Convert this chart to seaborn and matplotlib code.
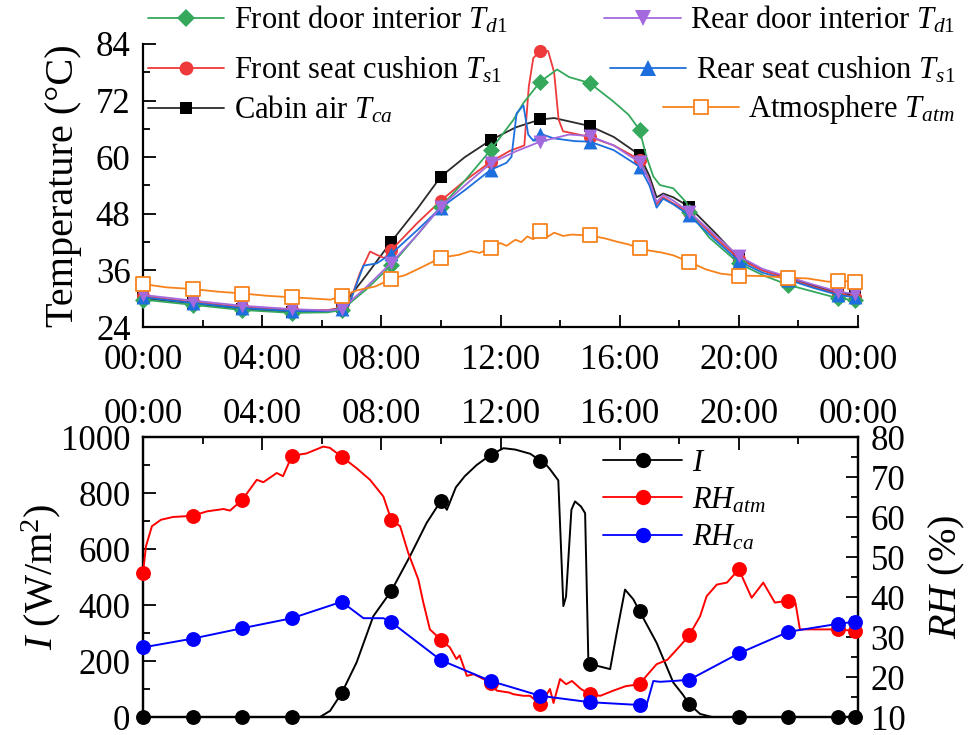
import matplotlib
matplotlib.use("Agg")
import matplotlib.pyplot as plt
import seaborn as sns
from matplotlib.lines import Line2D
from matplotlib.ticker import MultipleLocator, FixedLocator, FixedFormatter

sns.set_theme(style="ticks", rc={"axes.edgecolor": "black", "xtick.color": "black",
                                 "ytick.color": "black", "axes.labelcolor": "black",
                                 "text.color": "black"})
plt.rcParams["font.family"] = ["Liberation Serif", "DejaVu Serif"]
plt.rcParams["mathtext.fontset"] = "custom"
plt.rcParams["mathtext.rm"] = "Liberation Serif"
plt.rcParams["mathtext.it"] = "Liberation Serif:italic"
plt.rcParams["mathtext.bf"] = "Liberation Serif:bold"

# ---- data (hours of day) ----
HOUR_TICKS = [0, 4, 8, 12, 16, 20, 24]
HOUR_LABELS = ["00:00", "04:00", "08:00", "12:00", "16:00", "20:00", "00:00"]

# marker sampling times (every 100 min + end)
MARK_T = [0, 1.667, 3.333, 5, 6.667, 8.333, 10, 11.667, 13.333, 15, 16.667,
          18.333, 20, 21.667, 23.333, 23.9]

# top panel: temperatures (deg C)
cabin_mark = [30.1, 29.0, 27.8, 27.2, 28.2, 42.1, 55.9, 63.6, 68.0, 66.6, 60.5,
              49.5, 38.6, 34.5, 31.2, 30.8]
cabin_t = [0, 1.667, 3.333, 5, 6.2, 6.667, 7.5, 8.333, 9.2, 10, 10.8, 11.667,
           12.5, 13.333, 13.8, 14.3, 15, 15.8, 16.667, 17.0, 17.24, 17.46, 17.8,
           18.333, 19.2, 20, 20.8, 21.667, 22.5, 23.333, 23.9]
cabin_v = [30.1, 29.0, 27.8, 27.2, 27.4, 28.2, 35.0, 42.1, 49.0, 55.9, 60.0, 63.6,
           66.3, 68.0, 68.3, 67.6, 66.6, 64.3, 60.5, 56.0, 51.5, 52.3, 51.5,
           49.5, 44.0, 38.6, 36.0, 34.5, 32.8, 31.2, 30.8]

fseat_mark = [30.5, 29.3, 28.2, 27.6, 28.0, 40.3, 50.8, 59.0, 82.6, 64.3, 59.5,
              48.3, 38.5, 34.2, 31.0, 30.4]
fseat_t = [0, 1.667, 3.333, 5, 6.2, 6.667, 6.9, 7.28, 7.62, 7.85, 8.1, 8.333, 9.2,
           10, 10.8, 11.667, 12.3, 12.8, 12.95, 13.1, 13.333, 13.6, 13.8, 13.95,
           14.1, 15, 15.8, 16.667, 17.0, 17.24, 17.46, 17.8, 18.333, 19.2, 20,
           20.8, 21.667, 22.5, 23.333, 23.9]
fseat_v = [30.5, 29.3, 28.2, 27.6, 27.6, 28.0, 28.5, 35.4, 40.0, 39.3, 38.6, 40.3,
           46.0, 50.8, 55.0, 59.0, 61.3, 62.5, 75.0, 81.0, 82.6, 82.5, 78.0, 68.0,
           65.5, 64.3, 62.5, 59.5, 55.0, 50.0, 51.5, 50.2, 48.3, 43.0, 38.5,
           36.0, 34.2, 32.5, 31.0, 30.4]

fdoor_mark = [29.8, 28.7, 27.6, 27.0, 27.6, 37.1, 49.5, 61.5, 76.0, 75.7, 65.8,
              48.4, 37.5, 32.9, 30.1, 29.7]
fdoor_t = [0, 1.667, 3.333, 5, 6.2, 6.667, 7.5, 8.333, 9.2, 10, 10.8, 11.667,
           12.43, 12.77, 13.333, 13.9, 14.3, 15, 15.79, 16.3, 16.667, 16.9, 17.13,
           17.35, 17.8, 18.24, 18.333, 19.0, 20, 20.8, 21.667, 22.5, 23.333, 23.9]
fdoor_v = [29.8, 28.7, 27.6, 27.0, 27.1, 27.6, 32.0, 37.1, 43.5, 49.5, 55.0, 61.5,
           67.9, 71.5, 76.0, 78.6, 77.0, 75.7, 71.8, 69.0, 65.8, 60.1, 55.9,
           54.1, 53.4, 50.4, 48.4, 43.0, 37.5, 35.0, 32.9, 31.5, 30.1, 29.7]

rseat_mark = [30.3, 29.1, 28.0, 27.4, 27.9, 39.5, 49.3, 57.3, 65.0, 63.3, 58.0,
              47.7, 38.0, 34.0, 30.8, 30.3]
rseat_t = [0, 1.667, 3.333, 5, 6.2, 6.667, 6.9, 7.4, 7.85, 8.333, 9.2, 10, 10.8,
           11.667, 12.2, 12.37, 12.54, 12.77, 12.93, 13.1, 13.333, 13.78, 14.5, 15,
           15.8, 16.667, 17.0, 17.24, 17.46, 17.8, 18.333, 19.2, 20, 20.8, 21.667,
           22.5, 23.333, 23.9]
rseat_v = [30.3, 29.1, 28.0, 27.4, 27.4, 27.9, 28.5, 37.0, 37.5, 39.5, 44.5, 49.3,
           53.0, 57.3, 58.8, 60.1, 69.3, 71.0, 64.8, 63.5, 65.0, 64.0, 63.4, 63.3,
           61.5, 58.0, 54.0, 49.3, 51.2, 50.0, 47.7, 42.5, 38.0, 35.5, 34.0,
           32.3, 30.8, 30.3]

rdoor_mark = [30.8, 29.6, 28.5, 27.8, 27.8, 37.6, 49.5, 58.7, 63.3, 64.5, 58.9,
              48.4, 39.0, 34.6, 31.5, 31.0]
rdoor_t = [0, 1.667, 3.333, 5, 6.2, 6.667, 7.5, 8.333, 9.2, 10, 10.8, 11.667,
           12.5, 13.333, 14.3, 15, 15.8, 16.667, 17.0, 17.24, 17.46, 17.8, 18.333,
           19.2, 20, 20.8, 21.667, 22.5, 23.333, 23.9]
rdoor_v = [30.8, 29.6, 28.5, 27.8, 27.5, 27.8, 32.5, 37.6, 43.5, 49.5, 54.0, 58.7,
           61.2, 63.3, 64.8, 64.5, 62.5, 58.9, 55.0, 50.5, 52.0, 50.8, 48.4,
           43.5, 39.0, 36.3, 34.6, 33.0, 31.5, 31.0]

atm_mark = [33.1, 32.05, 31.1, 30.3, 30.6, 34.2, 38.7, 40.8, 44.35, 43.4, 40.7,
            37.8, 34.9, 34.45, 33.8, 33.6]
atm_t = [0, 0.8, 1.667, 2.5, 3.333, 4.2, 5, 5.8, 6.3, 6.667, 7.2, 7.8, 8.333, 8.8,
         9.3, 10, 10.6, 11.0, 11.3, 11.667, 12.0, 12.2, 12.5, 12.7, 12.9, 13.1,
         13.333, 13.6, 13.8, 14.1, 14.4, 15, 15.5, 15.9, 16.3, 16.667, 17.0, 17.4,
         17.8, 18.333, 18.9, 19.4, 20, 20.8, 21.667, 22.3, 23.0, 23.333, 23.9]
atm_v = [33.1, 32.4, 32.05, 31.5, 31.1, 30.6, 30.3, 30.0, 29.8, 30.6, 31.8, 32.6,
         34.2, 35.0, 36.5, 38.7, 39.3, 40.1, 39.7, 40.8, 41.8, 41.2, 42.5, 42.0,
         43.2, 42.6, 44.35, 43.2, 44.0, 43.3, 43.6, 43.4, 42.8, 42.1, 41.5, 40.7,
         40.2, 39.8, 39.2, 37.8, 36.2, 35.3, 34.9, 34.8, 34.45, 34.3, 33.6, 33.8,
         33.6]

# bottom panel: solar irradiance (W/m2) and relative humidity (%)
irr_mark = [0, 0, 0, 0, 85, 450, 772, 936, 916, 189, 378, 46, 0, 0, 0, 0]
irr_t = [0, 1.667, 3.333, 5, 5.94, 6.28, 6.667, 7.17, 7.73, 8.333, 8.96, 9.52, 10,
         10.2, 10.5, 10.8, 11.2, 11.667, 12.1, 12.5, 13.0, 13.333, 13.5, 13.66,
         13.94, 14.11, 14.2, 14.38, 14.5, 14.7, 14.84, 14.95, 15, 15.35, 15.68,
         15.9, 16.18, 16.46, 16.667, 17.24, 17.8, 18.12, 18.333, 18.7, 19.1, 20,
         21.667, 23.333, 23.9]
irr_v = [0, 0, 0, 0, 0, 22, 85, 195, 360, 450, 574, 693, 772, 740, 820, 860, 900,
         936, 960, 955, 940, 916, 905, 885, 845, 396, 430, 740, 770, 752, 728,
         195, 189, 180, 171, 300, 455, 420, 378, 265, 123, 80, 46, 11, 0, 0, 0,
         0, 0]

rha_mark = [46.0, 60.3, 64.3, 75.3, 75.1, 59.3, 29.3, 18.6, 13.2, 15.7, 18.2, 30.4,
            46.9, 39.1, 31.9, 31.5]
rha_t = [0, 0.1, 0.3, 0.6, 1.0, 1.667, 2.14, 2.7, 2.92, 3.333, 3.82, 4.04, 4.49,
         4.7, 5, 5.49, 6.05, 6.27, 6.667, 7.17, 7.62, 8.07, 8.333, 8.63, 8.9, 9.24,
         9.41, 9.63, 10, 10.3, 10.52, 10.63, 10.87, 11.1, 11.667, 11.87, 12.3,
         12.43, 12.77, 12.99, 13.333, 13.5, 13.66, 13.78, 14.0, 14.2, 14.4, 14.7,
         15, 15.35, 15.79, 16.2, 16.667, 16.9, 17.24, 17.6, 18.03, 18.333, 18.7,
         18.92, 19.26, 19.6, 20, 20.43, 20.82, 21.21, 21.667, 21.9, 22.05, 22.6,
         23.333, 23.9]
rha_v = [46.0, 52.7, 57.7, 59.3, 60.0, 60.3, 61.4, 62.0, 61.6, 64.3, 69.3, 68.7,
         71.0, 70.2, 75.3, 75.9, 77.6, 77.3, 75.1, 72.2, 69.3, 65.1, 59.3, 57.7,
         51.1, 44.4, 38.6, 31.9, 29.3, 27.4, 24.5, 25.4, 20.3, 20.7, 18.6, 16.6,
         16.1, 15.7, 15.3, 15.3, 13.2, 15.0, 17.0, 13.5, 19.5, 18.2, 19.0, 17.0,
         15.7, 15.3, 16.6, 17.7, 18.2, 20.3, 23.2, 24.3, 27.8, 30.4, 35.2, 40.2,
         43.1, 43.6, 46.9, 39.8, 43.6, 38.6, 39.1, 38.6, 31.9, 31.9, 31.9, 31.5]

rhc_mark = [27.4, 29.6, 32.2, 34.7, 38.8, 33.7, 24.2, 19.0, 15.3, 13.7, 13.0, 19.3,
            25.9, 31.3, 33.3, 33.8]
rhc_t = [0, 1.667, 3.333, 5, 6.667, 7.4, 8.07, 8.333, 10, 11.667, 13.333, 15,
         16.667, 16.9, 17.13, 17.35, 17.8, 18.333, 20, 21.667, 23.333, 23.9]
rhc_v = [27.4, 29.6, 32.2, 34.7, 38.8, 34.7, 34.7, 33.7, 24.2, 19.0, 15.3, 13.7,
         13.0, 12.9, 19.0, 18.8, 19.0, 19.3, 25.9, 31.3, 33.3, 33.8]

# ---- styles ----
GREEN, PURPLE, RED, BLUE, BLACK, ORANGE = "#35a85c", "#a469dc", "#ee3a3a", "#1c6fdc", "#2b2b2b", "#f7821b"
FS_TICK, FS_LABEL, FS_LEG = 25, 29, 22
W, H = 976, 735

fig = plt.figure(figsize=(W / 100, H / 100), dpi=100)
ax = fig.add_axes([143 / W, 1 - 327 / H, 715 / W, 283 / H])
axb = fig.add_axes([143 / W, 1 - 717 / H, 715 / W, 280 / H])


def draw(a, t, v, mt, mv, color, marker, z, size=90, face=None, mcolor=None, lw=1.3):
    sns.lineplot(x=t, y=v, ax=a, color=color, lw=lw, estimator=None, sort=False,
                 zorder=z)
    sns.scatterplot(x=mt, y=mv, ax=a, marker=marker, s=size,
                    color=face if face else (mcolor or color),
                    edgecolor=mcolor or color, linewidth=1.3 if face else 0,
                    zorder=z + 0.5, clip_on=False, legend=False)


def handle(color, marker, ms=10, face=None, mcolor=None):
    return Line2D([], [], color=color, lw=1.3, marker=marker, markersize=ms,
                  markerfacecolor=face if face else (mcolor or color),
                  markeredgecolor=mcolor or color, markeredgewidth=1.3 if face else 0)


# top panel
draw(ax, cabin_t, cabin_v, MARK_T, cabin_mark, BLACK, "s", 2, size=85, mcolor="black")
draw(ax, fseat_t, fseat_v, MARK_T, fseat_mark, RED, "o", 3)
draw(ax, fdoor_t, fdoor_v, MARK_T, fdoor_mark, GREEN, "D", 4, size=75)
draw(ax, rseat_t, rseat_v, MARK_T, rseat_mark, BLUE, "^", 5, size=100)
draw(ax, rdoor_t, rdoor_v, MARK_T, rdoor_mark, PURPLE, "v", 6, size=100)
draw(ax, atm_t, atm_v, MARK_T, atm_mark, ORANGE, "s", 7, size=95, face="white")

ax.set_xlim(0, 24)
ax.set_ylim(24, 84)
ax.xaxis.set_major_locator(FixedLocator(HOUR_TICKS))
ax.xaxis.set_major_formatter(FixedFormatter(HOUR_LABELS))
ax.xaxis.set_minor_locator(MultipleLocator(2))
ax.yaxis.set_major_locator(MultipleLocator(12))
ax.yaxis.set_minor_locator(MultipleLocator(6))
ax.tick_params(which="both", direction="in", width=1.3, labelsize=FS_TICK, colors="black")
ax.tick_params(which="major", length=9)
ax.tick_params(which="minor", length=5)
ax.tick_params(axis="x", pad=12)
ax.tick_params(axis="y", pad=9)
ax.spines[["top", "right"]].set_visible(False)
for s in ["left", "bottom"]:
    ax.spines[s].set_linewidth(1.6)
ax.set_xlabel("")
ax.set_ylabel("Temperature (°C)", fontsize=FS_LABEL)
ax.yaxis.set_label_coords(-0.086, 0.5)

# top legend: left column left-aligned, right column right-aligned
left_items = [(handle(GREEN, "D", 9), r"Front door interior $T_{d\mathrm{1}}$"),
              (handle(RED, "o"), r"Front seat cushion $T_{s\mathrm{1}}$"),
              (handle(BLACK, "s", 9, mcolor="black"), r"Cabin air $T_{ca}$")]
right_items = [(handle(PURPLE, "v", 11), r"Rear door interior $T_{d\mathrm{1}}$"),
               (handle(BLUE, "^", 11), r"Rear seat cushion $T_{s\mathrm{1}}$"),
               (handle(ORANGE, "s", 10, face="white"), r"Atmosphere $T_{atm}$")]
row_y = [20, 70, 110]
for (h, lab), y in zip(left_items, row_y):
    fig.legend([h], [lab], loc="center left", bbox_to_anchor=(148 / W, 1 - y / H),
               frameon=False, fontsize=FS_LEG, handlelength=2.5, handletextpad=0.3,
               borderpad=0, borderaxespad=0)
for (h, lab), y in zip(right_items, row_y):
    fig.legend([h], [lab], loc="center right", bbox_to_anchor=(955 / W, 1 - y / H),
               frameon=False, fontsize=FS_LEG, handlelength=2.5, handletextpad=0.3,
               borderpad=0, borderaxespad=0)

# bottom panel
axr = axb.twinx()
draw(axb, irr_t, irr_v, MARK_T, irr_mark, "black", "o", 2, size=115, lw=1.4)
draw(axr, rha_t, rha_v, MARK_T, rha_mark, "#ff0000", "o", 3, size=115, lw=1.4)
draw(axr, rhc_t, rhc_v, MARK_T, rhc_mark, "#0000ff", "o", 4, size=115, lw=1.4)

axb.set_xlim(0, 24)
axb.set_ylim(0, 1000)
axr.set_ylim(10, 80)
axb.xaxis.set_major_locator(FixedLocator(HOUR_TICKS))
axb.xaxis.set_major_formatter(FixedFormatter(HOUR_LABELS))
axb.xaxis.set_minor_locator(MultipleLocator(2))
axb.yaxis.set_major_locator(MultipleLocator(200))
axb.yaxis.set_minor_locator(MultipleLocator(100))
axr.yaxis.set_major_locator(MultipleLocator(10))
axr.yaxis.set_minor_locator(MultipleLocator(5))
for a in (axb, axr):
    a.tick_params(which="both", direction="in", width=1.3, labelsize=FS_TICK, colors="black")
    a.tick_params(which="major", length=9)
    a.tick_params(which="minor", length=5)
    a.tick_params(axis="y", pad=9)
    for s in a.spines.values():
        s.set_linewidth(1.6)
axb.tick_params(axis="x", which="both", top=True, bottom=False, labeltop=True,
                labelbottom=False, pad=4)
axb.set_xlabel("")
axb.set_ylabel(r"$I$ (W/m$^2$)", fontsize=FS_LABEL)
axb.yaxis.set_label_coords(-0.112, 0.5)
axr.set_ylabel(r"$RH$ (%)", fontsize=FS_LABEL)
axr.yaxis.set_label_coords(1.096, 0.5)

bot_items = [(handle("black", "o", 11), r"$I$"),
             (handle("#ff0000", "o", 11), r"$RH_{atm}$"),
             (handle("#0000ff", "o", 11), r"$RH_{ca}$")]
fig.legend([h for h, _ in bot_items], [l for _, l in bot_items], loc="upper left",
           bbox_to_anchor=(603 / W, 1 - 449 / H), frameon=False, fontsize=FS_LEG,
           handlelength=2.6, handletextpad=0.3, labelspacing=0.25,
           borderpad=0, borderaxespad=0)

fig.savefig("out.png", dpi=100)
